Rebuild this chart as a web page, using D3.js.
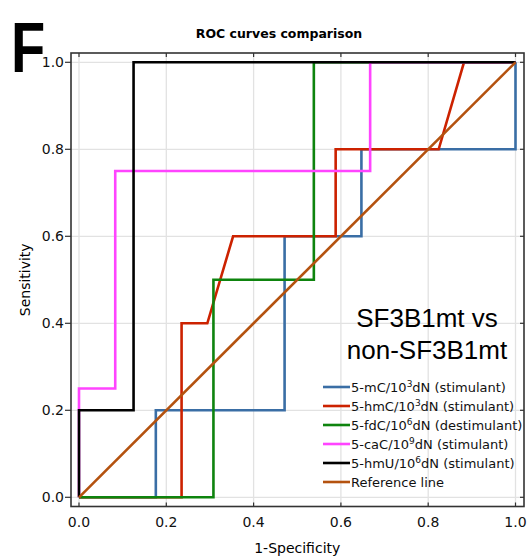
<!DOCTYPE html>
<html>
<head>
<meta charset="utf-8">
<script src="https://cdn.jsdelivr.net/npm/d3@7"></script>
<style>
  body { margin: 0; background: #fff; }
  svg { display: block; font-family: 'DejaVu Sans', sans-serif; }
</style>
</head>
<body>
<svg id="chart" width="530" height="558"></svg>
<script>
// tick values on both axes
const ticks = [0, 0.2, 0.4, 0.6, 0.8, 1.0];

// ROC curves: x = 1-Specificity, y = Sensitivity
const mC_x = [0, 0.176, 0.176, 0.471, 0.471, 0.647, 0.647, 1, 1];
const mC_y = [0, 0, 0.2, 0.2, 0.6, 0.6, 0.8, 0.8, 1];
const hmC_x = [0, 0.235, 0.235, 0.294, 0.353, 0.588, 0.588, 0.824, 0.882, 1];
const hmC_y = [0, 0, 0.4, 0.4, 0.6, 0.6, 0.8, 0.8, 1, 1];
const fdC_x = [0, 0.308, 0.308, 0.538, 0.538, 1];
const fdC_y = [0, 0, 0.5, 0.5, 1, 1];
const caC_x = [0, 0, 0.083, 0.083, 0.667, 0.667, 1];
const caC_y = [0, 0.25, 0.25, 0.75, 0.75, 1, 1];
const hmU_x = [0, 0, 0.125, 0.125, 1];
const hmU_y = [0, 0.2, 0.2, 1, 1];
const ref_x = [0, 1];
const ref_y = [0, 1];

// legend entries: [prefix, superscript, suffix]
const series = [
  { name: ['5-mC/10', '3', 'dN (stimulant)'], xs: mC_x, ys: mC_y, color: '#3a6ea5' },
  { name: ['5-hmC/10', '3', 'dN (stimulant)'], xs: hmC_x, ys: hmC_y, color: '#cc2200' },
  { name: ['5-fdC/10', '6', 'dN (destimulant)'], xs: fdC_x, ys: fdC_y, color: '#0e840e' },
  { name: ['5-caC/10', '9', 'dN (stimulant)'], xs: caC_x, ys: caC_y, color: '#ff44ff' },
  { name: ['5-hmU/10', '6', 'dN (stimulant)'], xs: hmU_x, ys: hmU_y, color: '#000000' },
  { name: ['Reference line', '', ''], xs: ref_x, ys: ref_y, color: '#b4520f' }
];

const svg = d3.select('#chart');

const x = d3.scaleLinear().domain([0, 1]).range([79, 515.5]);
const y = d3.scaleLinear().domain([0, 1]).range([497.3, 62.3]);

const frame = { left: 71, top: 53, right: 524, bottom: 506.5 };

// grid lines
const grid = svg.append('g').attr('class', 'grid');
grid.selectAll('line.gx')
  .data(ticks)
  .enter()
  .append('line')
  .attr('x1', (d) => x(d))
  .attr('x2', (d) => x(d))
  .attr('y1', frame.top)
  .attr('y2', frame.bottom)
  .style('stroke', '#e2e2e2')
  .style('stroke-width', 1.3);
grid.selectAll('line.gy')
  .data(ticks)
  .enter()
  .append('line')
  .attr('x1', frame.left)
  .attr('x2', frame.right)
  .attr('y1', (d) => y(d))
  .attr('y2', (d) => y(d))
  .style('stroke', '#e2e2e2')
  .style('stroke-width', 1.3);

// frame
svg.append('rect')
  .attr('x', frame.left)
  .attr('y', frame.top)
  .attr('width', frame.right - frame.left)
  .attr('height', frame.bottom - frame.top)
  .attr('fill', 'none')
  .attr('stroke', '#333')
  .attr('stroke-width', 1.6);

// tick marks
const tickG = svg.append('g').attr('stroke', '#333').attr('stroke-width', 1.2);
ticks.forEach((t) => {
  tickG.append('line').attr('x1', x(t)).attr('x2', x(t)).attr('y1', frame.bottom).attr('y2', frame.bottom - 4);
  tickG.append('line').attr('x1', x(t)).attr('x2', x(t)).attr('y1', frame.top).attr('y2', frame.top + 4);
  tickG.append('line').attr('x1', frame.left).attr('x2', frame.left - 6).attr('y1', y(t)).attr('y2', y(t));
  tickG.append('line').attr('x1', frame.right).attr('x2', frame.right - 4).attr('y1', y(t)).attr('y2', y(t));
});

// tick labels
svg.selectAll('text.xAxisLabel')
  .data(ticks)
  .enter()
  .append('text')
  .attr('class', 'xAxisLabel')
  .attr('x', (d) => x(d))
  .attr('y', 527)
  .attr('text-anchor', 'middle')
  .style('font-size', '14px')
  .style('fill', '#111')
  .text((d) => d.toFixed(1));

svg.selectAll('text.yAxisLabel')
  .data(ticks)
  .enter()
  .append('text')
  .attr('class', 'yAxisLabel')
  .attr('x', 64)
  .attr('y', (d) => y(d) + 5)
  .attr('text-anchor', 'end')
  .style('font-size', '14px')
  .style('fill', '#111')
  .text((d) => d.toFixed(1));

// axis titles
svg.append('text')
  .attr('x', x(0.5))
  .attr('y', 553)
  .attr('text-anchor', 'middle')
  .style('font-size', '14px')
  .text('1-Specificity');

svg.append('text')
  .attr('transform', `translate(30, ${y(0.5)}) rotate(-90)`)
  .attr('text-anchor', 'middle')
  .style('font-size', '14px')
  .text('Sensitivity');

// chart title
svg.append('text')
  .attr('x', 279)
  .attr('y', 38)
  .attr('text-anchor', 'middle')
  .style('font-size', '12.5px')
  .style('font-weight', 'bold')
  .text('ROC curves comparison');

// panel letter (narrow, heavy F)
svg.append('text')
  .attr('transform', 'translate(11, 72) scale(0.8, 1)')
  .style('font-family', "'Liberation Sans', Arial, sans-serif")
  .style('font-size', '70px')
  .style('font-weight', 'bold')
  .text('F');

// curves
const line = d3.line()
  .x((d) => x(d[0]))
  .y((d) => y(d[1]));

svg.append('g')
  .selectAll('path')
  .data(series)
  .enter()
  .append('path')
  .attr('d', (s) => line(s.xs.map((v, i) => [v, s.ys[i]])))
  .attr('fill', 'none')
  .attr('stroke', (s) => s.color)
  .attr('stroke-width', 2.6)
  .attr('stroke-linejoin', 'miter');

// comparison label
const big = svg.append('text')
  .attr('text-anchor', 'middle')
  .style('font-family', "'Liberation Sans', Arial, sans-serif")
  .style('font-size', '26px');
big.append('tspan').attr('x', 427).attr('y', 327).text('SF3B1mt vs');
big.append('tspan').attr('x', 427).attr('y', 359).text('non-SF3B1mt');

// legend
const legend = svg.append('g').attr('class', 'legend');
const rows = legend.selectAll('g')
  .data(series)
  .enter()
  .append('g')
  .attr('transform', (d, i) => `translate(323, ${387 + i * 19})`);

rows.append('line')
  .attr('x1', 0)
  .attr('x2', 27)
  .attr('y1', 0)
  .attr('y2', 0)
  .attr('stroke', (d) => d.color)
  .attr('stroke-width', 2.6);

const labels = rows.append('text')
  .attr('x', 28)
  .attr('y', 5)
  .style('font-size', '13px')
  .style('fill', '#111');
labels.append('tspan').text((d) => d.name[0]);
labels.append('tspan')
  .attr('dy', -5)
  .style('font-size', '9px')
  .text((d) => d.name[1]);
labels.append('tspan')
  .attr('dy', (d) => (d.name[1] ? 5 : 0))
  .text((d) => d.name[2]);
</script>
</body>
</html>
